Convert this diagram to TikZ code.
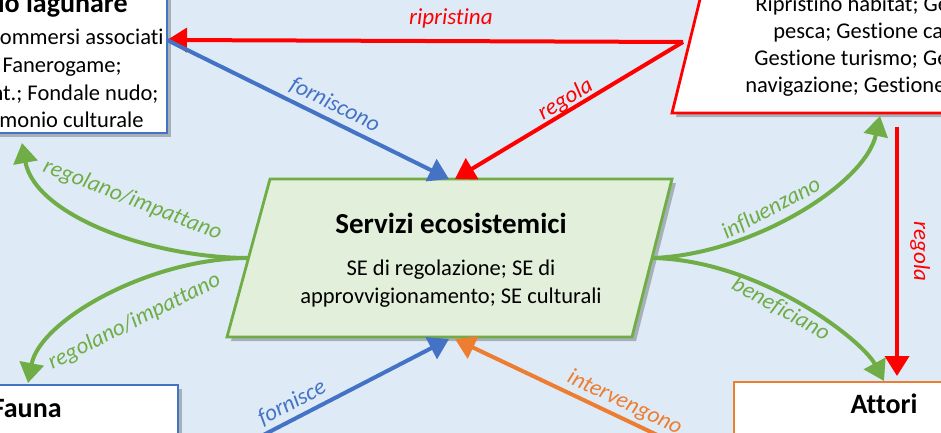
\documentclass[tikz,border=0pt]{standalone}
\usepackage{fontspec}
\setmainfont{Carlito}[Ligatures=CommonOff]
\usepackage{tikz}
\usetikzlibrary{arrows.meta,calc,positioning,shadows}
\definecolor{sfondo}{RGB}{222,235,247}
\definecolor{blu}{RGB}{68,114,196}
\definecolor{verde}{RGB}{112,173,71}
\definecolor{verdechiaro}{RGB}{226,239,218}
\definecolor{arancio}{RGB}{237,125,49}
\definecolor{rosso}{RGB}{255,0,0}
\tikzset{
    >={Triangle[width=12pt,length=10pt]},
    riquadro/.style={
        line width=1.4pt,
        fill=white,
        drop shadow={shadow xshift=2pt, shadow yshift=-2pt, opacity=0.25, fill=black}
    },
    titolo/.style={font={\fontsize{14pt}{17pt}\selectfont\bfseries}, inner sep=0pt},
    testo/.style={font={\fontsize{11.25pt}{14pt}\selectfont}, inner sep=0pt},
    freccia/.style={draw, line width=2pt, ->},
    etichetta/.style={
        font={\fontsize{11.5pt}{14pt}\selectfont\itshape},
        text height=8pt, text depth=2.5pt, inner sep=1pt, sloped
    },
}
\begin{document}
\begin{tikzpicture}[x=0.5pt, y=-0.5pt]
% area visibile
\useasboundingbox (0,0) rectangle (941,433);
\clip (0,0) rectangle (941,433);
\fill[sfondo] (0,0) rectangle (941,433);

% riquadro in alto a sinistra
\draw[riquadro, draw=blu] (-300,-100) rectangle (167,133);
\node[titolo, anchor=base east] (lagtit) at (128,13) {io lagunare};
\node[testo, anchor=base east] (lag1) at (164,45) {ommersi associati};
\node[testo, anchor=base east] (lag2) at (122,73) {Fanerogame;};
\node[testo, anchor=base east] (lag3) at (159,100) {nt.; Fondale nudo;};
\node[testo, anchor=base east] (lag4) at (144,127) {monio culturale};

% riquadro in alto a destra
\draw[riquadro, draw=rosso] (672,113) -- (706,-25) -- (1100,-25) -- (1100,113) -- cycle;
\node[testo, anchor=base west] (gest1) at (755,12) {Ripristino habitat; Ge};
\node[testo, anchor=base west] (gest2) at (773,39) {pesca; Gestione ca};
\node[testo, anchor=base west] (gest3) at (754,66) {Gestione turismo; Ge};
\node[testo, anchor=base west] (gest4) at (745,93) {navigazione; Gestione};

% servizi ecosistemici
\draw[riquadro, draw=verde, fill=verdechiaro] (270,179) -- (672,179) -- (632,337) -- (227,337) -- cycle;
\node[titolo, font={\fontsize{14.5pt}{17pt}\selectfont\bfseries}, anchor=base] (setit) at (451,233) {Servizi ecosistemici};
\node[testo, anchor=base] (se1) at (451,275) {SE di regolazione; SE di};
\node[testo, anchor=base] (se2) at (451,303) {approvvigionamento; SE culturali};

% fauna e attori
\draw[riquadro, draw=blu] (-300,385) rectangle (178,700);
\node[titolo, anchor=base east] (fauna) at (62,417) {Fauna};
\draw[riquadro, draw=arancio] (734,382) rectangle (1200,700);
\node[titolo, anchor=base] (attori) at (884,413) {Attori};

% punti di attacco
\coordinate (lagR) at (167,40);
\coordinate (lagB) at (22,143);
\coordinate (gestL) at (683,42);
\coordinate (gestB) at (880,116);
\coordinate (gestBr) at (897,127);
\coordinate (seTa) at (449,179);
\coordinate (seTb) at (455,179);
\coordinate (seBa) at (449,339);
\coordinate (seBb) at (455,339);
\coordinate (seL) at (249,258);
\coordinate (seR) at (652,258);
\coordinate (faunaT) at (28,383);
\coordinate (attT) at (884,381);
\coordinate (attTr) at (897,376);
\coordinate (floraA) at (215,460);
\coordinate (utentiA) at (710,460);

% connettori
\draw[freccia, rosso] (gestL) -- (lagR) node[etichetta, pos=0.45, above=3.8pt, text=rosso] {ripristina};
\draw[freccia, rosso] (gestL) -- (seTb) node[etichetta, pos=0.49, above=-2pt, text=rosso] {regola};
\draw[freccia, blu] (lagR) -- (seTa) node[etichetta, pos=0.57, above=0.2pt, text=blu] {forniscono};
\draw[freccia, blu] (floraA) -- (seBa) node[etichetta, pos=0.36, above, text=blu] {fornisce};
\draw[freccia, arancio] (utentiA) -- (seBb) node[etichetta, pos=0.36, above, text=arancio] {intervengono};
\draw[freccia, rosso] (gestBr) -- (attTr) node[etichetta, midway, above=4pt, text=rosso] {regola};

\draw[freccia, verde] (seL) .. controls (150,258) and (35,215) .. (lagB)
    node[etichetta, pos=0.44, above=10.8pt, text=verde] {regolano/impattano};
\draw[freccia, verde] (seL) .. controls (150,258) and (40,320) .. (faunaT)
    node[etichetta, pos=0.45, below=10.7pt, text=verde] {regolano/impattano};
\draw[freccia, verde] (seR) .. controls (750,255) and (865,185) .. (gestB)
    node[etichetta, pos=0.43, above, text=verde] {influenzano};
\draw[freccia, verde] (seR) .. controls (760,260) and (862,340) .. (attT)
    node[etichetta, pos=0.45, below, text=verde] {beneficiano};
\end{tikzpicture}
\end{document}
